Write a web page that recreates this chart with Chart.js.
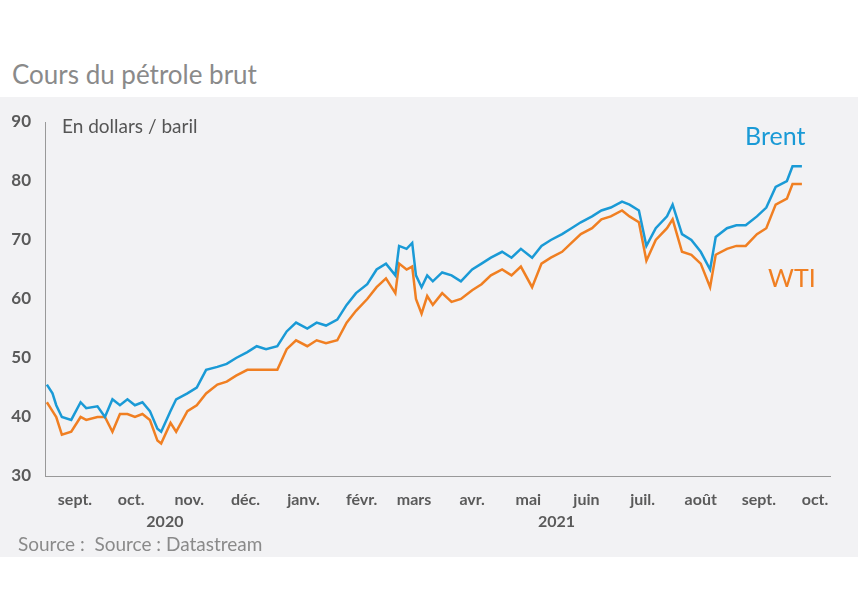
<!DOCTYPE html>
<html><head><meta charset="utf-8">
<script src="https://cdn.jsdelivr.net/npm/chart.js@4/dist/chart.umd.min.js"></script>
<style>
body{margin:0;width:858px;height:600px;background:#fff;font-family:Lato,"Open Sans",sans-serif;position:relative;overflow:hidden}
#title{position:absolute;left:12px;top:58px;font-size:26px;color:#8a8a8a}
#wrap{position:absolute;left:0;top:97px;width:858px;height:460px;background:#f2f2f4}
#src{position:absolute;left:18px;top:532px;font-size:19px;color:#8a8a8a}
</style></head><body>
<div id="title">Cours du pétrole brut</div>
<div id="wrap"><canvas id="c" width="858" height="460"></canvas></div>
<div id="src">Source :&nbsp; Source : Datastream</div>
<script>
const days=[0,3,5,8,13,18,21,27,31,35,39,43,47,51,55,59,61,66,69,75,80,85,91,96,101,107,112,117,123,128,133,139,144,149,155,160,165,171,176,181,186,188,192,195,197,200,203,206,211,216,221,227,232,237,243,248,253,259,264,269,275,280,285,291,296,301,307,311,316,320,325,331,334,339,344,349,354,357,363,368,373,379,384,389,395,398,403];
const brent=[45.5,44,42,40,39.5,42.5,41.5,41.8,40,43,42,43,42,42.5,41,38,37.5,41,43,44,45,48,48.5,49,50,51,52,51.5,52,54.5,56,55,56,55.5,56.5,59,61,62.5,65,66,64,69,68.5,69.5,64,62,64,63,64.5,64,63,65,66,67,68,67,68.5,67,69,70,71,72,73,74,75,75.5,76.5,76,75,69,72,74,76,71,70,68,65,70.5,72,72.5,72.5,74,75.5,79,80,82.5,82.5];
const wti=[42.5,41,40,37,37.5,40,39.5,40,40,37.5,40.5,40.5,40,40.5,39.5,36,35.5,39,37.5,41,42,44,45.5,46,47,48,48,48,48,51.5,53,52,53,52.5,53,56,58,60,62,63.5,61,66,65,65.5,60,57.5,60.5,59,61,59.5,60,61.5,62.5,64,65,64,65.5,62,66,67,68,69.5,71,72,73.5,74,75,74,73,66.5,70,72,73.5,68,67.5,66,62,67.5,68.5,69,69,71,72,76,77,79.5,79.5];
const monthLabels=['sept.','oct.','nov.','déc.','janv.','févr.','mars','avr.','mai','juin','juil.','août','sept.','oct.'];
const monthMid=[15,45,76,106,137,168,196,227,257,288,318,349,380,410];
const years=[{t:'2020',d:63},{t:'2021',d:272}];
const yTicks=[30,40,50,60,70,80,90];
const gray='#5a5a5a';
const textPlugin={id:'txt',afterDraw(ch){const c=ch.ctx,x=ch.scales.x;c.save();
c.font='bold 16px Lato';c.fillStyle=gray;c.textAlign='center';c.textBaseline='alphabetic';
years.forEach(y=>c.fillText(y.t,x.getPixelForValue(y.d),430));
c.textAlign='left';c.font='19px Lato';c.fillStyle='#555';c.fillText('En dollars / baril',62,36);
c.font='25px Lato';c.fillStyle='#1a9ad6';c.fillText('Brent',745,48);
c.fillStyle='#f07f22';c.fillText('WTI',768,190);c.restore();}};
new Chart(document.getElementById('c'),{type:'line',
data:{datasets:[
{label:'Brent',data:days.map((d,i)=>({x:d,y:brent[i]})),borderColor:'#1a9ad6',borderWidth:2.5,pointRadius:0,tension:0},
{label:'WTI',data:days.map((d,i)=>({x:d,y:wti[i]})),borderColor:'#f07f22',borderWidth:2.5,pointRadius:0,tension:0}]},
options:{responsive:false,animation:false,layout:{padding:{top:25,right:28,left:0,bottom:0}},
plugins:{legend:{display:false},tooltip:{enabled:false}},
scales:{
x:{type:'linear',min:-1,max:418,grid:{display:false},border:{display:true,color:'#999'},
afterBuildTicks(s){s.ticks=monthMid.map(v=>({value:v}));},
ticks:{autoSkip:false,maxRotation:0,font:{size:16,weight:'bold',family:'Lato'},color:gray,padding:6,callback:(v,i)=>monthLabels[i]},
afterFit(s){s.height=81;}},
y:{min:30,max:90,grid:{display:false},border:{display:true,color:'#999'},
afterBuildTicks(s){s.ticks=yTicks.map(v=>({value:v}));},
ticks:{font:{size:17,weight:'bold',family:'Lato'},color:gray,padding:6},
afterFit(s){s.width=45;}}}},
plugins:[textPlugin]});
</script></body></html>
